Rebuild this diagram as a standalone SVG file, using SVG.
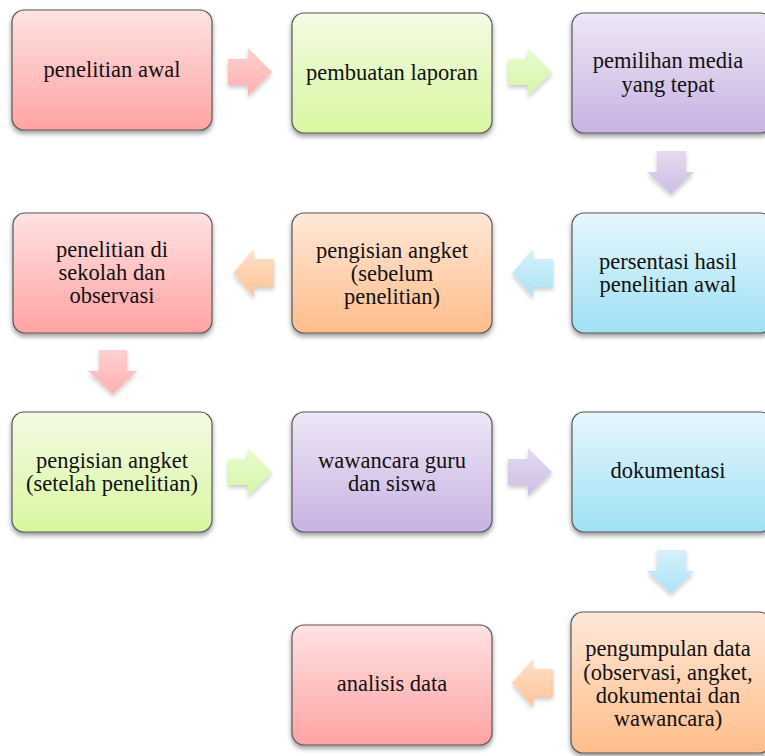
<svg xmlns="http://www.w3.org/2000/svg" width="765" height="756" viewBox="0 0 765 756">
<defs>
<linearGradient id="gRed" x1="0" y1="0" x2="0" y2="1"><stop offset="0" stop-color="#ffe2e2"/><stop offset="1" stop-color="#ffa3a3"/></linearGradient>
<linearGradient id="gGreen" x1="0" y1="0" x2="0" y2="1"><stop offset="0" stop-color="#f3fbe3"/><stop offset="1" stop-color="#d8f7a0"/></linearGradient>
<linearGradient id="gPurple" x1="0" y1="0" x2="0" y2="1"><stop offset="0" stop-color="#eee7f6"/><stop offset="1" stop-color="#c8b2e2"/></linearGradient>
<linearGradient id="gBlue" x1="0" y1="0" x2="0" y2="1"><stop offset="0" stop-color="#e6f7fd"/><stop offset="1" stop-color="#9ee0f5"/></linearGradient>
<linearGradient id="gOrange" x1="0" y1="0" x2="0" y2="1"><stop offset="0" stop-color="#ffe8d8"/><stop offset="1" stop-color="#ffbd8a"/></linearGradient>
<linearGradient id="aRed" x1="0" y1="0" x2="0" y2="1"><stop offset="0" stop-color="#ffd0d0"/><stop offset="1" stop-color="#ffb0b0"/></linearGradient>
<linearGradient id="aGreen" x1="0" y1="0" x2="0" y2="1"><stop offset="0" stop-color="#eafad0"/><stop offset="1" stop-color="#d6f6a8"/></linearGradient>
<linearGradient id="aPurple" x1="0" y1="0" x2="0" y2="1"><stop offset="0" stop-color="#e4dbf0"/><stop offset="1" stop-color="#cdbde4"/></linearGradient>
<linearGradient id="aBlue" x1="0" y1="0" x2="0" y2="1"><stop offset="0" stop-color="#d6f1fb"/><stop offset="1" stop-color="#a9e3f6"/></linearGradient>
<linearGradient id="aOrange" x1="0" y1="0" x2="0" y2="1"><stop offset="0" stop-color="#ffe0c8"/><stop offset="1" stop-color="#ffc498"/></linearGradient>
<filter id="sh" x="-10%" y="-10%" width="120%" height="130%"><feDropShadow dx="0" dy="3" stdDeviation="2.5" flood-color="#000" flood-opacity="0.4"/></filter>
<filter id="ash" x="-20%" y="-20%" width="140%" height="150%"><feDropShadow dx="0" dy="3" stdDeviation="2" flood-color="#000" flood-opacity="0.2"/></filter>
</defs>
<style>
.box{stroke:#595959;stroke-width:1.2;filter:url(#sh)}
.arr{filter:url(#ash)}
text{font-family:"Liberation Serif","DejaVu Serif",serif;font-size:22.5px;fill:#111;text-anchor:middle}
</style>
<g id="connectors">
<path class="arr" fill="url(#aRed)" d="M228,59 L248,59 L248,48 L272,72 L248,96 L248,85 L228,85 Z"/>
<path class="arr" fill="url(#aGreen)" d="M508,59 L528,59 L528,48 L552,72 L528,96 L528,85 L508,85 Z"/>
<path class="arr" fill="url(#aPurple)" d="M657,151 L686,151 L686,172 L694,172 L671,194 L647,172 L657,172 Z"/>
<path class="arr" fill="url(#aBlue)" d="M553,259 L533,259 L533,249 L512,273 L533,297 L533,287 L553,287 Z"/>
<path class="arr" fill="url(#aOrange)" d="M274,259 L254,259 L254,249 L233,273 L254,297 L254,287 L274,287 Z"/>
<path class="arr" fill="url(#aRed)" d="M99,350 L127,350 L127,371 L137,371 L113,394 L88,371 L99,371 Z"/>
<path class="arr" fill="url(#aGreen)" d="M228,459 L248,459 L248,448 L272,472 L248,496 L248,485 L228,485 Z"/>
<path class="arr" fill="url(#aPurple)" d="M508,459 L528,459 L528,448 L552,472 L528,496 L528,485 L508,485 Z"/>
<path class="arr" fill="url(#aBlue)" d="M657,550 L686,550 L686,571 L694,571 L671,593 L647,571 L657,571 Z"/>
<path class="arr" fill="url(#aOrange)" d="M553,669 L533,669 L533,659 L512,683 L533,707 L533,697 L553,697 Z"/>
</g>
<g id="n1"><rect class="box" x="12" y="10" width="200" height="120" rx="12" fill="url(#gRed)"/><text x="112" y="77">penelitian awal</text></g>
<g id="n2"><rect class="box" x="292" y="13" width="200" height="120" rx="12" fill="url(#gGreen)"/><text x="392" y="80">pembuatan laporan</text></g>
<g id="n3"><rect class="box" x="572" y="13" width="200" height="120" rx="12" fill="url(#gPurple)"/><text x="668" y="68">pemilihan media</text><text x="668" y="92">yang tepat</text></g>
<g id="n4"><rect class="box" x="572" y="213" width="200" height="120" rx="12" fill="url(#gBlue)"/><text x="668" y="269">persentasi hasil</text><text x="668" y="292">penelitian awal</text></g>
<g id="n5"><rect class="box" x="292" y="213" width="200" height="120" rx="12" fill="url(#gOrange)"/><text x="392" y="258">pengisian angket</text><text x="392" y="281">(sebelum</text><text x="392" y="304">penelitian)</text></g>
<g id="n6"><rect class="box" x="13" y="213" width="199" height="120" rx="12" fill="url(#gRed)"/><text x="112" y="257">penelitian di</text><text x="112" y="280">sekolah dan</text><text x="112" y="303">observasi</text></g>
<g id="n7"><rect class="box" x="12" y="412" width="200" height="120" rx="12" fill="url(#gGreen)"/><text x="112" y="468">pengisian angket</text><text x="112" y="491">(setelah penelitian)</text></g>
<g id="n8"><rect class="box" x="292" y="412" width="200" height="120" rx="12" fill="url(#gPurple)"/><text x="392" y="468">wawancara guru</text><text x="392" y="491">dan siswa</text></g>
<g id="n9"><rect class="box" x="572" y="412" width="200" height="120" rx="12" fill="url(#gBlue)"/><text x="668" y="478">dokumentasi</text></g>
<g id="n10"><rect class="box" x="292" y="625" width="200" height="120" rx="12" fill="url(#gRed)"/><text x="392" y="691">analisis data</text></g>
<g id="n11"><rect class="box" x="571" y="612" width="200" height="141" rx="12" fill="url(#gOrange)"/><text x="668" y="656">pengumpulan data</text><text x="668" y="680">(observasi, angket,</text><text x="668" y="703">dokumentai dan</text><text x="668" y="726">wawancara)</text></g>
</svg>
